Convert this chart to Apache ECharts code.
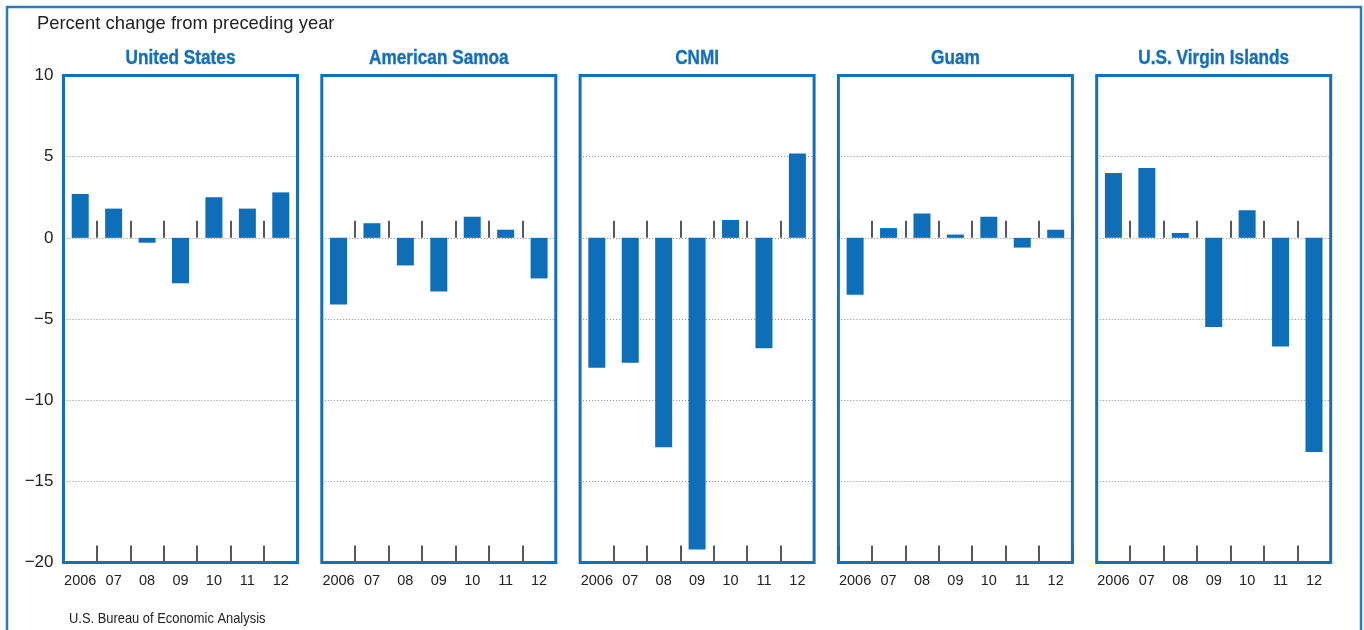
<!DOCTYPE html>
<html><head><meta charset="utf-8">
<script src="https://cdn.jsdelivr.net/npm/echarts@6/dist/echarts.min.js"></script>
<style>html,body{margin:0;padding:0;background:#fff}#c{width:1364px;height:630px}</style>
</head><body><div id="c"></div>
<script>
const categories = ['2006','07','08','09','10','11','12'];
const panelTitles = ['United States','American Samoa','CNMI','Guam','U.S. Virgin Islands'];
const usValues = [2.7, 1.8, -0.3, -2.8, 2.5, 1.8, 2.8];
const samoaValues = [-4.1, 0.9, -1.7, -3.3, 1.3, 0.5, -2.5];
const cnmiValues = [-8.0, -7.7, -12.9, -19.2, 1.1, -6.8, 5.2];
const guamValues = [-3.5, 0.6, 1.5, 0.2, 1.3, -0.6, 0.5];
const usviValues = [4.0, 4.3, 0.3, -5.5, 1.7, -6.7, -13.2];
const yTicks = [10, 5, 0, -5, -10, -15, -20];
const seriesValues = [usValues, samoaValues, cnmiValues, guamValues, usviValues];

const BLUE = '#1570b9';
const BAR = '#0e6eb8';
const L0 = 63.5, STEP = 258.3, W = 234, TOP = 75.5, H = 487;

const grids = [], xAxes = [], yAxes = [], series = [], graphics = [];
panelTitles.forEach((t, i) => {
  const left = L0 + i * STEP;
  grids.push({left: left, top: TOP, width: W, height: H, show: false});
  xAxes.push({
    type: 'category', gridIndex: i, data: categories, position: 'bottom',
    axisLine: {show: false, onZero: false},
    axisTick: {show: true, inside: true, length: 17, interval: 0, lineStyle: {color: '#222', width: 1.5}},
    axisLabel: {color: '#222', fontSize: 14.5, margin: 11, fontFamily: 'Liberation Sans, Arial, sans-serif', interval: 0}
  });
  xAxes.push({
    type: 'category', gridIndex: i, data: categories, position: 'bottom',
    axisLine: {show: false, onZero: true},
    axisTick: {show: true, inside: true, length: 17, interval: 0, lineStyle: {color: '#222', width: 1.5}},
    axisLabel: {show: false, interval: 0}
  });
  yAxes.push({
    type: 'value', gridIndex: i, min: -20, max: 10, interval: 5,
    axisLine: {show: false}, axisTick: {show: false},
    axisLabel: {show: i === 0, color: '#222', fontSize: 17, margin: 10,
      fontFamily: 'Liberation Sans, Arial, sans-serif',
      formatter: v => (v < 0 ? '\u2212' + Math.abs(v) : String(v))},
    splitLine: {show: true, lineStyle: {color: '#8a8a8a', width: 1, type: [1, 2]}}
  });
  series.push({
    type: 'bar', xAxisIndex: 2 * i, yAxisIndex: i, data: seriesValues[i],
    barWidth: 17, itemStyle: {color: BAR}, silent: true
  });
  graphics.push({
    type: 'rect', z: 100, silent: true,
    shape: {x: left, y: TOP, width: W, height: H},
    style: {fill: 'none', stroke: BLUE, lineWidth: 3}
  });
  graphics.push({
    type: 'text', z: 100, silent: true,
    x: left + W / 2, y: 58, scaleX: 0.86,
    style: {text: t, fill: BLUE, stroke: BLUE, lineWidth: 0.4,
      font: 'bold 20px "Liberation Sans", Arial, sans-serif',
      textAlign: 'center', textVerticalAlign: 'middle'}
  });
});
graphics.push({
  type: 'rect', z: 100, silent: true,
  shape: {x: 7, y: 7, width: 1354, height: 640},
  style: {fill: 'none', stroke: '#2a7cc0', lineWidth: 2.5}
});
graphics.push({
  type: 'text', z: 100, silent: true, x: 37, y: 24,
  style: {text: 'Percent change from preceding year', fill: '#222',
    font: '18.4px "Liberation Sans", Arial, sans-serif', textVerticalAlign: 'middle'}
});
graphics.push({
  type: 'text', z: 100, silent: true, x: 69, y: 618.5, scaleX: 0.86,
  style: {text: 'U.S. Bureau of Economic Analysis', fill: '#222',
    font: '15px "Liberation Sans", Arial, sans-serif', textVerticalAlign: 'middle'}
});

const chart = echarts.init(document.getElementById('c'), null, {renderer: 'canvas'});
chart.setOption({
  animation: false,
  grid: grids, xAxis: xAxes, yAxis: yAxes, series: series, graphic: graphics
});
</script></body></html>
